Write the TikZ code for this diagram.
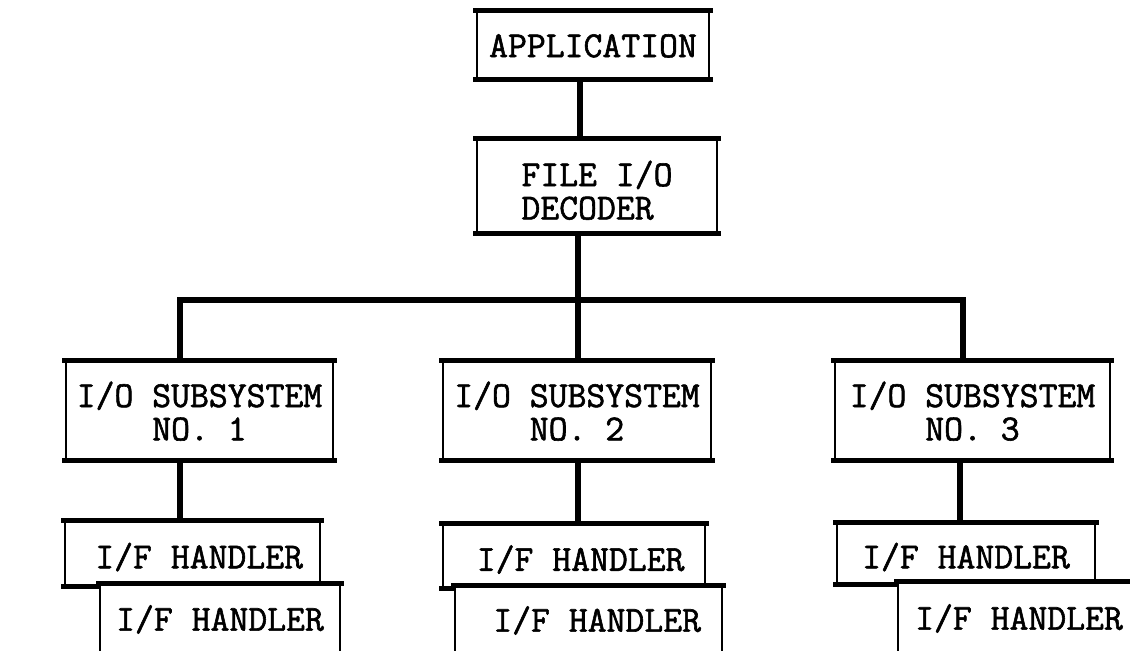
\documentclass[tikz,border=0pt]{standalone}
\usepackage{fontspec}
\newfontfamily\typew{Latin Modern Mono}[FakeBold=1.6]
\newcommand\boxtext[2][10.3pt]{\raisebox{-#1}[0pt][0pt]{\begin{tabular}{@{}c@{}}#2\end{tabular}}}
\usetikzlibrary{fit}
\begin{document}
\begin{tikzpicture}[x=0.75pt,y=-0.75pt,
  box/.style={draw, fill=white, line width=2pt, inner sep=0pt,
    font=\typew\bfseries\fontsize{27.5}{25}\selectfont,
    append after command={
      (\tikzlastnode.north west) edge[line width=4.2pt, line cap=rect] (\tikzlastnode.north east)
      (\tikzlastnode.south west) edge[line width=4.2pt, line cap=rect] (\tikzlastnode.south east)}},
  conn/.style={line width=3.8pt}]
\useasboundingbox (0,0) rectangle (1130,650);
\clip (0,0) rectangle (1130,650);
% top
\node[box, fit={(477,12)(709,78)}] (app) {\boxtext{APPLICATION}};
\node[box, fit={(477,140)(717,232)}] (dec) {\boxtext[13pt]{FILE I/O\\DECODER\hphantom{R}}};
% subsystems
\node[box, fit={(66,362)(333,459)}] (s1) {\boxtext{I/O SUBSYSTEM\\NO. 1}};
\node[box, fit={(443,362)(711,459)}] (s2) {\boxtext{I/O SUBSYSTEM\\NO. 2}};
\node[box, fit={(835,362)(1110,459)}] (s3) {\boxtext{I/O SUBSYSTEM\\NO. 3}};
% handlers
\node[box, fit={(65,522)(320,585)}] (h1a) {\boxtext[11.5pt]{\hspace{10pt}I/F HANDLER}};
\node[box, fit={(100,585)(340,662)}] (h1b) {\boxtext[5.8pt]{I/F HANDLER}};
\node[box, fit={(443,525)(705,587)}] (h2a) {\boxtext[11.5pt]{\hspace{10pt}I/F HANDLER}};
\node[box, fit={(455,587)(722,662)}] (h2b) {\boxtext[5.8pt]{\hspace{13pt}I/F HANDLER}};
\node[box, fit={(837,524)(1095,583)}] (h3a) {\boxtext[11.5pt]{I/F HANDLER\hspace{7pt}}};
\node[box, fit={(898,583)(1140,662)}] (h3b) {\boxtext[5.8pt]{I/F HANDLER\hspace{4pt}}};
% connectors
\coordinate (bl) at (180,300);
\coordinate (bm) at (578,300);
\coordinate (br) at (963,300);
\draw[conn] (app.south -| 580,0) -- (dec.north -| 580,0);
\draw[conn] (dec.south -| bm) -- (bm);
\draw[conn] (s1.north -| bl) -- (bl) -- (br) -- (s3.north -| br);
\draw[conn] (bm) -- (s2.north -| bm);
\draw[conn] (s1.south -| bl) -- (h1a.north -| bl);
\draw[conn] (s2.south -| bm) -- (h2a.north -| bm);
\draw[conn] (s3.south -| 960,0) -- (h3a.north -| 960,0);
\end{tikzpicture}
\end{document}
